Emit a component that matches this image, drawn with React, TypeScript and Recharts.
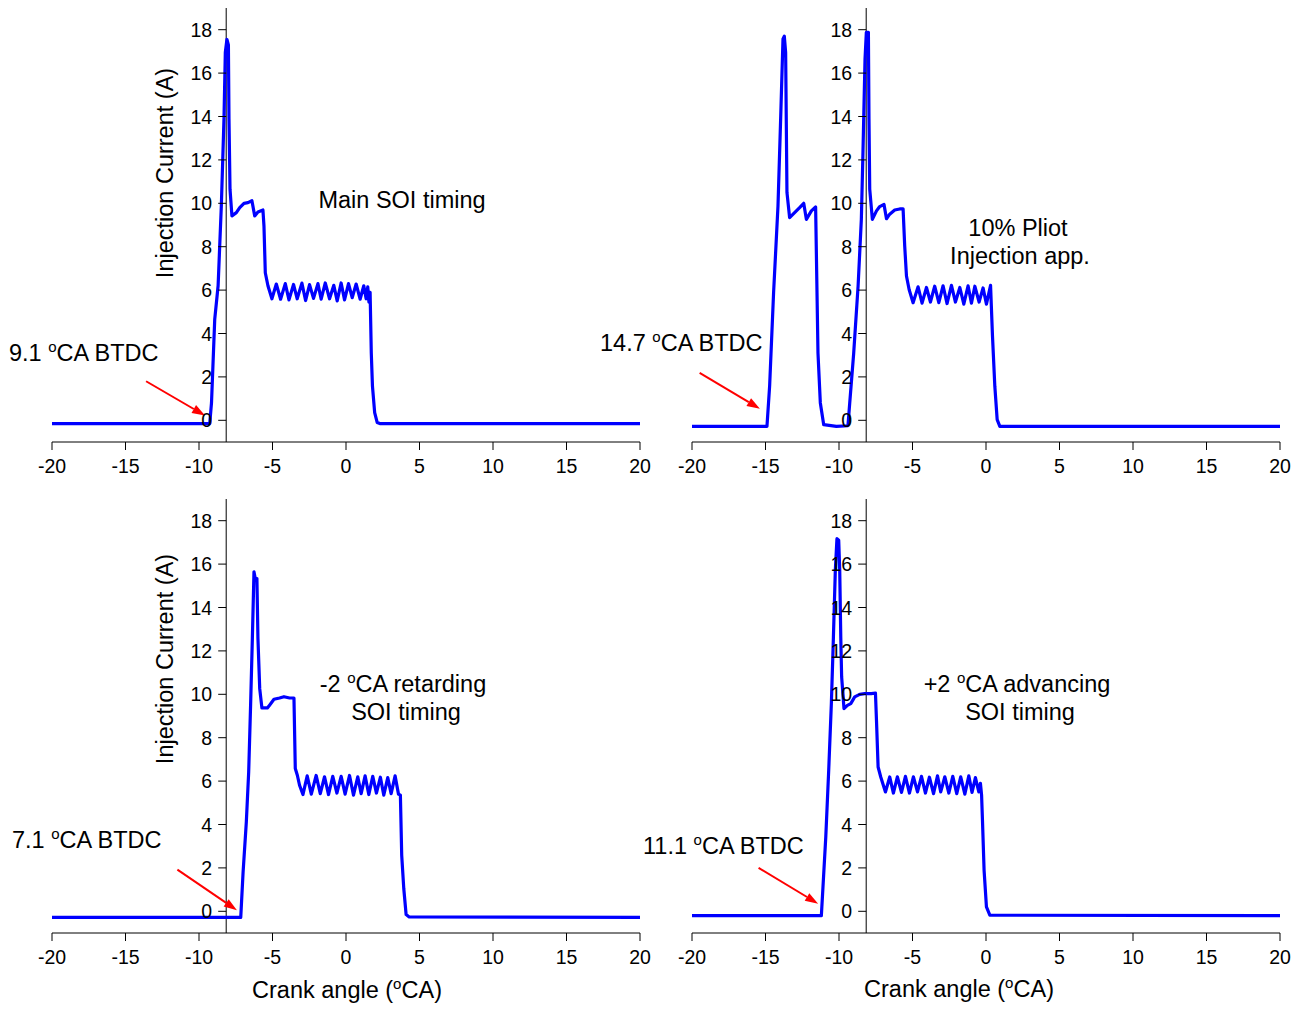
import React from "react";
import { LineChart, Line, XAxis, YAxis, ReferenceLine, ReferenceDot } from "recharts";

// Injector current traces, crank angle (°CA) against current (A)
const mainAngle = [
  -20, -9.27, -9.15, -8.93, -8.7, -8.48, -8.3, -8.21, -8.1, -8.0, -7.96, -7.89, -7.76, -7.46, -7.23, -6.94,
  -6.67, -6.4, -6.21, -5.99, -5.65, -5.58, -5.49, -5.31, -5.04, -4.74, -4.45, -4.13, -3.88, -3.57, -3.32,
  -3.0, -2.75, -2.48, -2.21, -1.91, -1.69, -1.41, -1.12, -0.83, -0.6, -0.33, -0.1, 0.17, 0.42, 0.69, 0.96,
  1.21, 1.37, 1.48, 1.56, 1.64, 1.72, 1.8, 1.95, 2.12, 2.3, 20,
];
const mainCurrent = [
  -0.15, -0.15, 0.8, 4.65, 6.2, 9.9, 13.9, 16.95, 17.55, 17.3, 13.9, 10.65, 9.42, 9.57, 9.8, 10.0,
  10.03, 10.12, 9.42, 9.6, 9.69, 8.95, 6.8, 6.2, 5.6, 6.28, 5.58, 6.3, 5.55, 6.26, 5.6,
  6.32, 5.52, 6.25, 5.62, 6.3, 5.58, 6.33, 5.6, 6.22, 5.5, 6.33, 5.55, 6.3, 5.65, 6.28, 5.58,
  6.2, 5.6, 6.15, 5.45, 5.9, 3.1, 1.57, 0.35, -0.1, -0.15, -0.15,
];

const pilotAngle = [
  -20, -14.9, -14.72, -14.45, -14.15, -13.97, -13.81, -13.72, -13.63, -13.54, -13.36, -13.02, -12.68, -12.4,
  -12.22, -11.88, -11.59, -11.54, -11.43, -11.27, -11.04, -10.18, -9.39, -9.27, -9.0, -8.7, -8.48, -8.37,
  -8.23, -8.14, -8.0, -7.96, -7.91, -7.73, -7.45, -7.23, -6.94, -6.77, -6.55, -6.21, -5.87, -5.64, -5.53,
  -5.41, -5.23, -4.96, -4.62, -4.35, -4.05, -3.78, -3.49, -3.21, -2.92, -2.65, -2.35, -2.08, -1.78, -1.51,
  -1.22, -0.99, -0.76, -0.47, -0.2, 0.03, 0.31, 0.44, 0.6, 0.76, 0.94, 20,
];
const pilotCurrent = [
  -0.28, -0.28, 1.57, 5.88, 9.88, 13.88, 17.57, 17.7, 16.95, 10.5, 9.34, 9.57, 9.8, 10.0,
  9.26, 9.65, 9.83, 7.72, 3.1, 0.8, -0.2, -0.28, -0.25, 0.8, 3.1, 6.2, 9.26, 12.34,
  16.65, 17.88, 17.88, 13.88, 10.65, 9.26, 9.65, 9.85, 9.95, 9.29, 9.5, 9.69, 9.74, 9.74, 8.03,
  6.65, 6.03, 5.42, 6.15, 5.4, 6.12, 5.45, 6.18, 5.42, 6.2, 5.38, 6.22, 5.45, 6.12, 5.35,
  6.2, 5.4, 6.18, 5.45, 6.1, 5.35, 6.22, 3.9, 1.57, 0.03, -0.28, -0.28,
];

const retardAngle = [
  -20, -7.16, -7.0, -6.78, -6.62, -6.49, -6.37, -6.26, -6.15, -6.06, -5.99, -5.87, -5.72, -5.35, -5.2, -4.9,
  -4.52, -4.22, -3.84, -3.54, -3.45, -3.31, -3.16, -2.93, -2.64, -2.36, -2.03, -1.75, -1.46, -1.19, -0.9,
  -0.62, -0.33, -0.06, 0.24, 0.51, 0.8, 1.03, 1.3, 1.55, 1.82, 2.07, 2.34, 2.57, 2.84, 3.07, 3.34, 3.57,
  3.7, 3.79, 3.93, 4.09, 4.3, 20,
];
const retardCurrent = [
  -0.28, -0.28, 1.81, 4.12, 6.42, 9.5, 12.57, 15.64, 15.25, 15.33, 12.57, 10.26, 9.37, 9.37, 9.5, 9.77,
  9.83, 9.89, 9.83, 9.83, 6.58, 6.27, 5.81, 5.38, 6.24, 5.4, 6.26, 5.42, 6.2, 5.38, 6.22,
  5.45, 6.22, 5.4, 6.26, 5.35, 6.2, 5.42, 6.24, 5.38, 6.22, 5.45, 6.18, 5.35, 6.16, 5.42, 6.24, 5.4,
  5.35, 2.58, 1.05, -0.15, -0.26, -0.28,
];

const advanceAngle = [
  -20, -11.2, -11.09, -10.9, -10.7, -10.52, -10.38, -10.25, -10.14, -10.02, -9.95, -9.88, -9.82, -9.66, -9.43,
  -9.2, -8.93, -8.59, -8.25, -7.8, -7.52, -7.45, -7.34, -7.16, -6.84, -6.55, -6.3, -6.03, -5.75, -5.48,
  -5.21, -4.94, -4.66, -4.39, -4.12, -3.85, -3.57, -3.3, -3.08, -2.8, -2.53, -2.26, -1.99, -1.72, -1.44,
  -1.17, -0.95, -0.72, -0.49, -0.38, -0.3, -0.24, -0.13, 0.03, 0.26, 20,
];
const advanceCurrent = [
  -0.2, -0.2, 1.12, 3.42, 6.5, 9.57, 12.64, 15.71, 17.17, 17.1, 15.7, 12.64, 10.8, 9.34, 9.49,
  9.57, 9.88, 10.0, 10.03, 10.03, 10.06, 8.8, 6.65, 6.19, 5.5, 6.19, 5.45, 6.2, 5.48, 6.22,
  5.45, 6.2, 5.5, 6.22, 5.45, 6.18, 5.42, 6.24, 5.5, 6.2, 5.45, 6.22, 5.42, 6.2, 5.4,
  6.24, 5.48, 6.16, 5.5, 5.9, 5.35, 4.19, 1.89, 0.2, -0.18, -0.2,
];

const X_TICKS = [-20, -15, -10, -5, 0, 5, 10, 15, 20];
const Y_TICKS = [0, 2, 4, 6, 8, 10, 12, 14, 16, 18];

const FONT = "'Liberation Sans', Arial, Helvetica, sans-serif";
const AXIS_X = -8.15; // where the current axis crosses the angle axis

const zip = (angle: number[], current: number[]) =>
  angle.map((a, i) => ({ angle: a, current: current[i] }));

type Pt = { x: number; y: number };

// red pointer to the start of injection
const Arrow = (p: any) => {
  const { x1, y1, x2, y2 } = p;
  const dx = x2 - x1;
  const dy = y2 - y1;
  const len = Math.sqrt(dx * dx + dy * dy);
  const ux = dx / len;
  const uy = dy / len;
  const head = 13;
  const half = 4.5;
  const bx = x2 - ux * head;
  const by = y2 - uy * head;
  return (
    <g>
      <line x1={x1} y1={y1} x2={bx} y2={by} stroke="#ff0000" strokeWidth={2} />
      <polygon
        points={`${x2},${y2} ${bx - uy * half},${by + ux * half} ${bx + uy * half},${by - ux * half}`}
        fill="#ff0000"
      />
    </g>
  );
};

const YTick = ({ cx, cy, value }: any) => (
  <g>
    <line x1={cx - 8} y1={cy} x2={cx} y2={cy} stroke="#000" strokeWidth={1} />
    <text x={cx - 14} y={cy} dy="0.36em" textAnchor="end" fill="#000" fontSize={19.5} fontFamily={FONT}>
      {value}
    </text>
  </g>
);

interface PanelProps {
  data: { angle: number; current: number }[];
  left: number;
  top: number;
  marginTop: number;
  arrow: [Pt, Pt];
}

function Panel({ data, left, top, marginTop, arrow }: PanelProps) {
  return (
    <div style={{ position: "absolute", left, top }}>
      <LineChart
        width={660}
        height={490}
        data={data}
        margin={{ top: marginTop, right: 20, left: 52, bottom: 490 - marginTop - 434 - 30 }}
      >
        <XAxis
          type="number"
          dataKey="angle"
          domain={[-20, 20]}
          ticks={X_TICKS}
          interval={0}
          allowDataOverflow
          height={30}
          tickSize={8}
          tickMargin={9}
          axisLine={{ stroke: "#000", strokeWidth: 1 }}
          tickLine={{ stroke: "#000", strokeWidth: 1 }}
          tick={{ fill: "#000", fontSize: 19.5, fontFamily: FONT }}
        />
        <YAxis hide type="number" domain={[-1, 19]} allowDataOverflow />
        <ReferenceLine x={AXIS_X} stroke="#000" strokeWidth={1} />
        {Y_TICKS.map((v) => (
          <ReferenceDot
            key={v}
            x={AXIS_X}
            y={v}
            r={0}
            shape={(p: any) => <YTick cx={p.cx} cy={p.cy} value={v} />}
          />
        ))}
        <ReferenceLine segment={arrow} shape={(p: any) => <Arrow {...p} />} />
        <Line
          type="linear"
          dataKey="current"
          stroke="#0000ff"
          strokeWidth={3.2}
          strokeLinejoin="round"
          strokeLinecap="round"
          dot={false}
          isAnimationActive={false}
        />
      </LineChart>
    </div>
  );
}

const Deg = () => (
  <span style={{ fontSize: "0.64em", verticalAlign: "0.62em", lineHeight: 0 }}>o</span>
);

const Note = ({
  x,
  y,
  children,
  anchor = "center",
  rotate = false,
}: {
  x: number;
  y: number;
  children: React.ReactNode;
  anchor?: "left" | "center";
  rotate?: boolean;
}) => (
  <div
    style={{
      position: "absolute",
      left: x,
      top: y,
      transform: `translate(${anchor === "center" ? "-50%" : "0"}, -50%)${rotate ? " rotate(-90deg)" : ""}`,
      whiteSpace: "nowrap",
      fontFamily: FONT,
      fontSize: 23.5,
      lineHeight: 1,
      color: "#000",
      textAlign: "center",
    }}
  >
    {children}
  </div>
);

export default function App() {
  return (
    <div style={{ position: "absolute", left: 0, top: 0, width: 1302, height: 1009, background: "#fff", overflow: "hidden" }}>
      <Panel
        data={zip(mainAngle, mainCurrent)}
        left={0}
        top={0}
        marginTop={8}
        arrow={[{ x: -13.6, y: 1.8 }, { x: -9.59, y: 0.22 }]}
      />
      <Panel
        data={zip(pilotAngle, pilotCurrent)}
        left={640}
        top={0}
        marginTop={8}
        arrow={[{ x: -19.48, y: 2.19 }, { x: -15.38, y: 0.53 }]}
      />
      <Panel
        data={zip(retardAngle, retardCurrent)}
        left={0}
        top={490}
        marginTop={9}
        arrow={[{ x: -11.47, y: 1.92 }, { x: -7.42, y: 0.05 }]}
      />
      <Panel
        data={zip(advanceAngle, advanceCurrent)}
        left={640}
        top={490}
        marginTop={9}
        arrow={[{ x: -15.47, y: 2.0 }, { x: -11.42, y: 0.35 }]}
      />

      <Note x={166} y={173} rotate>Injection Current (A)</Note>
      <Note x={166} y={659} rotate>Injection Current (A)</Note>
      <Note x={347} y={991}>Crank angle (<Deg />CA)</Note>
      <Note x={959} y={990}>Crank angle (<Deg />CA)</Note>

      <Note x={9} y={354} anchor="left">9.1 <Deg />CA BTDC</Note>
      <Note x={402} y={201}>Main SOI timing</Note>

      <Note x={600} y={344} anchor="left">14.7 <Deg />CA BTDC</Note>
      <Note x={1018} y={229}>10% Pliot</Note>
      <Note x={1020} y={257}>Injection app.</Note>

      <Note x={12} y={841} anchor="left">7.1 <Deg />CA BTDC</Note>
      <Note x={403} y={685}>-2 <Deg />CA retarding</Note>
      <Note x={406} y={713}>SOI timing</Note>

      <Note x={643} y={847} anchor="left">11.1 <Deg />CA BTDC</Note>
      <Note x={1017} y={685}>+2 <Deg />CA advancing</Note>
      <Note x={1020} y={713}>SOI timing</Note>
    </div>
  );
}
